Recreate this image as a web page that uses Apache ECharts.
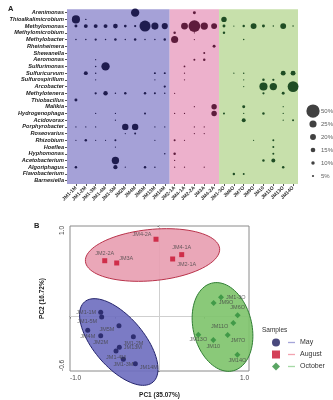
<!DOCTYPE html>
<html>
<head>
<meta charset="utf-8">
<script src="https://cdn.jsdelivr.net/npm/echarts@6/dist/echarts.min.js"></script>
<style>
  html, body { margin: 0; padding: 0; background: #fff; }
  #chart { width: 333px; height: 400px; }
</style>
</head>
<body>
<div id="chart"></div>
<script>
// ---- panel A data ----
const genera = ['Arenimonas','Thioalkalimicrobium','Methylomonas','Methylomicrobium','Methylobacter','Rheinheimera','Shewanella','Aeromonas','Sulfurimonas','Sulfuricurvum','Sulfurospirillum','Arcobacter','Methylotenera','Thiobacillus','Malikia','Hydrogenophaga','Acidovorax','Porphyrobacter','Roseovarius','Rhizobium','Hoeflea','Hyphomonas','Acetobacterium','Algoriphagus','Flavobacterium','Barnesiella'];
const maySamples = ['JM1-1M','JM1-2M','JM1-3M','JM1-4M','JM1-5M','JM2M','JM4M','JM5M','JM13M','JM14M'];
const augSamples = ['JM2-1A','JM4-1A','JM2-2A','JM3A','JM4-2A'];
const octSamples = ['JM1-3O','JM6O','JM7O','JM9O','JM10','JM11O','JM13O','JM14O'];

// relative abundance (%), one row per genus, columns = May | August | October samples
const abundance = [
  [0,0,0,0,0,0,30,0,0,0,   0,0,8,0,0,     0,0,0,0,0,0,0,0],
  [29,2,0,0,0,0,0,0,0,0,   0,0,0,0,0,     18,0,0,0,0,0,0,0],
  [8,12,12,12,15,7,5,41,25,21, 0,24,44,26,20, 8,1,6,20,8,2,20,2],
  [0,0,0,0,0,0,0,0,0,0,    6,0,1,0,0,     6,0,0,0,0,0,0,0],
  [2,2,5,2,6,2,6,2,2,6,    25,0,1,0,0,    0,0,2,0,0,0,0,0],
  [0,0,0,0,0,0,0,0,0,0,    0,0,0,0,8,     0,0,0,0,0,0,0,0],
  [0,0,0,0,0,0,0,0,0,0,    0,0,0,4,0,     0,0,0,0,0,0,0,0],
  [0,0,1,0,0,0,0,0,0,0,    0,0,4,6,0,     0,0,0,0,0,0,0,0],
  [0,0,2,30,0,0,0,0,0,0,   0,3,0,0,0,     0,0,0,0,0,0,0,0],
  [0,12,2,0,0,0,0,0,4,4,   0,1,0,0,0,     0,1,2,0,0,0,16,16],
  [0,0,1,0,0,0,0,0,1,0,    0,1,0,0,0,     0,0,1,0,6,5,0,0],
  [0,0,0,0,0,0,0,0,0,5,    0,0,0,0,0,     0,0,1,0,29,26,0,40],
  [0,0,5,14,2,6,0,6,4,2,   1,0,0,0,0,     0,0,0,0,5,0,8,0],
  [8,0,0,0,0,0,0,0,0,0,    0,0,0,0,0,     0,0,0,0,0,0,0,0],
  [0,0,0,0,0,0,0,0,0,0,    0,0,1,0,18,    0,0,8,0,0,0,1,0],
  [0,0,1,0,1,0,0,4,0,0,    1,1,0,0,18,    4,0,1,0,6,0,1,0],
  [0,0,0,0,1,0,0,0,0,0,    0,0,0,0,0,     0,0,12,0,0,0,1,4],
  [1,1,1,0,0,22,22,0,1,1,  0,0,1,1,0,     0,0,0,0,0,0,0,0],
  [0,0,0,0,0,1,4,0,0,0,    0,0,1,1,0,     0,0,0,0,0,0,0,0],
  [1,6,1,1,4,0,0,0,1,0,    4,1,0,0,0,     0,0,0,1,0,4,0,0],
  [0,0,0,0,1,0,0,0,0,0,    0,0,0,0,0,     0,0,0,0,0,4,0,0],
  [0,0,0,0,0,0,0,0,0,2,    6,0,0,0,0,     0,0,0,0,0,4,0,0],
  [0,0,0,0,26,0,0,0,0,0,   1,0,0,0,0,     0,0,0,0,6,12,0,0],
  [6,0,0,0,13,1,0,6,2,0,   1,1,0,1,0,     0,0,0,0,0,0,6,0],
  [0,0,0,0,0,0,0,0,0,0,    0,0,0,0,0,     0,6,4,0,0,0,0,0],
  [0,0,0,0,0,0,0,0,0,0,    0,0,0,0,0,     0,0,0,0,0,0,0,0]
];
const sizeLegend = [50, 25, 20, 15, 10, 5];

// ---- panel B data: [PC1, PC2, sample] ----
const pcaMay = [
  [-0.657, 0.048, 'JM1-1M'], [-0.646, -0.004, 'JM1-5M'], [-0.802, -0.151, 'JM4M'],
  [-0.453, -0.100, 'JM5M'], [-0.657, -0.210, 'JM2M'], [-0.292, -0.221, 'JM1-2M'],
  [-0.449, -0.338, 'JM13M'], [-0.486, -0.379, 'JM1-4M'], [-0.404, -0.471, 'JM1-3M'],
  [-0.270, -0.519, 'JM14M']
];
const pcaAug = [
  [-0.039, 0.854, 'JM4-2A'], [-0.612, 0.617, 'JM2-2A'], [-0.478, 0.592, 'JM3A'],
  [0.248, 0.684, 'JM4-1A'], [0.147, 0.636, 'JM2-1A']
];
const pcaOct = [
  [0.687, 0.213, 'JM1-3O'], [0.605, 0.151, 'JM9O'], [0.873, 0.015, 'JM6O'],
  [0.825, -0.070, 'JM11O'], [0.434, -0.200, 'JM13O'], [0.601, -0.258, 'JM10'],
  [0.762, -0.203, 'JM7O'], [0.870, -0.420, 'JM14O']
];
// group ellipses: [centre PC1, centre PC2, semi-major, semi-minor, angle deg]
const ellipseMay = [-0.455, -0.280, 0.585, 0.28, -49];
const ellipseAug = [-0.078, 0.680, 0.753, 0.283, 5.4];
const ellipseOct = [0.704, -0.114, 0.498, 0.327, -76];

// ---- styles ----
const bandColors = ['#a5a1d7', '#edb1cc', '#c7e0ab'];
const dotColors = ['#1f1c4f', '#5e1c3c', '#1f4d24'];
const groupColors = ['#1b1b5c', '#c8102e', '#2f8f3c'];
const ellFill = ['rgba(112,112,192,0.92)', 'rgba(232,160,178,0.92)', 'rgba(128,196,110,0.92)'];
const ellStroke = ['#23236b', '#b8324a', '#2f7d33'];
const legendLine = ['#8f8fd0', '#f08c9c', '#8fcf8f'];
const groupNames = ['May', 'August', 'October'];
const labelPos = {
  'JM1-1M': ['left', 0, 0], 'JM1-5M': ['left', 0, 4], 'JM4M': ['bottom', 0, -1],
  'JM5M': ['left', 0, 4], 'JM2M': ['bottom', 0, -1], 'JM1-2M': ['bottom', 0, -1],
  'JM13M': ['right', 0, 0], 'JM1-4M': ['bottom', 0, -1], 'JM1-3M': ['bottom', 0, -2],
  'JM14M': ['right', 0, 4],
  'JM4-2A': ['left', 0, -5], 'JM2-2A': ['top', 0, 0], 'JM3A': ['right', -2, -4],
  'JM4-1A': ['top', 0, 0], 'JM2-1A': ['right', 0, 5],
  'JM1-3O': ['right', 0, 0], 'JM9O': ['right', 0, 0], 'JM6O': ['top', 0, 0],
  'JM11O': ['left', 0, 4], 'JM13O': ['bottom', 0, -3], 'JM10': ['bottom', 0, -2],
  'JM7O': ['right', -2, 5], 'JM14O': ['bottom', 0, -2]
};

const samples = maySamples.concat(augSamples, octSamples);
const sampleGroups = [maySamples, augSamples, octSamples];
const bubbleSize = v => 1 + 0.245 * v;

// band ranges and bubble series per sampling month
const bandData = [];
const bubbleSeries = [];
let start = 0;
sampleGroups.forEach((g, gi) => {
  bandData.push([start, start + g.length - 1, 0]);
  const pts = [];
  genera.forEach((gen, r) => {
    for (let c = start; c < start + g.length; c++) {
      if (abundance[r][c] > 0) pts.push([c, r, abundance[r][c]]);
    }
  });
  bubbleSeries.push({
    type: 'scatter', xAxisIndex: 0, yAxisIndex: 0, z: 3, silent: true,
    data: pts, symbolSize: v => bubbleSize(v[2]),
    itemStyle: { color: dotColors[gi], opacity: 1 }
  });
  start += g.length;
});

const bandPadLeft = 4;
const bandSeries = {
  type: 'custom', xAxisIndex: 0, yAxisIndex: 0, z: 1, silent: true,
  data: bandData, encode: { x: [0, 1], y: 2 },
  renderItem(params, api) {
    const s = api.coord([api.value(0), 0]);
    const e = api.coord([api.value(1), 0]);
    const bw = api.size([1, 0])[0];
    const cs = params.coordSys;
    const pad = params.dataIndex === 0 ? bandPadLeft : 0;
    return {
      type: 'rect',
      shape: { x: s[0] - bw / 2 - pad, y: cs.y, width: e[0] - s[0] + bw + pad, height: cs.height },
      style: { fill: bandColors[params.dataIndex] }
    };
  }
};

const ellipseSeries = {
  type: 'custom', xAxisIndex: 2, yAxisIndex: 2, z: 2, silent: true,
  data: [ellipseMay, ellipseAug, ellipseOct], encode: { x: 0, y: 1 },
  renderItem(params, api) {
    const cx = api.value(0), cy = api.value(1), a = api.value(2), b = api.value(3);
    const t = api.value(4) * Math.PI / 180;
    const pts = [];
    for (let k = 0; k < 90; k++) {
      const u = 2 * Math.PI * k / 90;
      const x = cx + a * Math.cos(u) * Math.cos(t) - b * Math.sin(u) * Math.sin(t);
      const y = cy + a * Math.cos(u) * Math.sin(t) + b * Math.sin(u) * Math.cos(t);
      pts.push(api.coord([x, y]));
    }
    return {
      type: 'polygon', shape: { points: pts },
      style: { fill: ellFill[params.dataIndex], stroke: ellStroke[params.dataIndex], lineWidth: 1 }
    };
  }
};

const pcaSets = [pcaMay, pcaAug, pcaOct];
const pcaSymbols = ['circle', 'rect', 'diamond'];
const pcaSizes = [5, 5, 6];
const pcaSeries = pcaSets.map((set, gi) => ({
  type: 'scatter', name: groupNames[gi], xAxisIndex: 2, yAxisIndex: 2, z: 3,
  symbol: pcaSymbols[gi], symbolSize: pcaSizes[gi], silent: true,
  itemStyle: { color: groupColors[gi] },
  data: set.map(p => {
    const lp = labelPos[p[2]];
    return {
      value: [p[0], p[1]], name: p[2],
      label: { position: lp[0], offset: [lp[1], lp[2]] }
    };
  }),
  label: { show: true, formatter: '{b}', fontSize: 5.5, color: '#444', distance: 2 },
  markLine: gi === 0 ? {
    silent: true, z: 1, symbol: ['none', 'none'], animation: false,
    label: { show: false },
    lineStyle: { color: '#cfcfcf', width: 1, type: 'solid' },
    data: [{ xAxis: 0 }, { yAxis: 0 }]
  } : undefined
}));

const chart = echarts.init(document.getElementById('chart'), null, { renderer: 'canvas' });
chart.setOption({
  animation: false,
  textStyle: { fontFamily: 'Liberation Sans, Arial, sans-serif' },
  title: [
    { text: 'A', left: 3, top: 0, textStyle: { fontSize: 7.5, fontWeight: 'bold', color: '#222' } },
    { text: 'B', left: 29, top: 217, textStyle: { fontSize: 7.5, fontWeight: 'bold', color: '#222' } },
    { text: 'Samples', left: 257, top: 322, textStyle: { fontSize: 6.5, fontWeight: 'normal', color: '#333' } }
  ],
  legend: [
    {
      data: groupNames.map((n, i) => ({ name: n, icon: pcaSymbols[i] })),
      orient: 'vertical', left: 267, top: 333, itemWidth: 8, itemHeight: 8, itemGap: 3,
      formatter: () => ' ', textStyle: { fontSize: 7, lineHeight: 9 }, selectedMode: false
    },
    {
      data: groupNames.map((n, i) => ({ name: n, icon: 'rect', itemStyle: { color: legendLine[i] } })),
      orient: 'vertical', left: 283, top: 333, itemWidth: 7, itemHeight: 1.3, itemGap: 3,
      textStyle: { fontSize: 7, lineHeight: 9, color: '#333' }, selectedMode: false
    }
  ],
  grid: [
    { left: 71, top: 9.3, width: 227, height: 174.7 },
    { left: 306, top: 104.5, width: 14, height: 78 },
    { left: 70, top: 226, width: 179, height: 145, show: true, borderColor: '#8a8a8a', borderWidth: 1 }
  ],
  xAxis: [
    {
      type: 'category', gridIndex: 0, data: samples,
      axisLine: { show: false },
      axisTick: { show: true, alignWithLabel: true, length: 2, lineStyle: { color: '#555' } },
      axisLabel: { rotate: 45, fontSize: 5, fontWeight: 'bold', color: '#333', margin: 3, interval: 0 }
    },
    { type: 'category', gridIndex: 1, data: [''], show: false },
    {
      type: 'value', gridIndex: 2, min: -1, max: 1, interval: 0.5,
      name: 'PC1 (35.07%)', nameLocation: 'middle', nameGap: 21,
      nameTextStyle: { fontSize: 6.5, fontWeight: 'bold', color: '#222' },
      axisLine: { show: true, lineStyle: { color: '#777' } },
      axisTick: { show: true, length: 2, lineStyle: { color: '#777' } },
      splitLine: { show: false },
      axisLabel: { customValues: [-1, 1], formatter: v => v.toFixed(1), fontSize: 6.5, color: '#444',
        margin: 4, alignMinLabel: 'left', alignMaxLabel: 'right' }
    }
  ],
  yAxis: [
    {
      type: 'category', gridIndex: 0, data: genera, inverse: true, offset: 4,
      axisLine: { show: false },
      axisTick: { show: true, alignWithLabel: true, length: 2, lineStyle: { color: '#555' } },
      axisLabel: { fontSize: 5.6, fontWeight: 'bold', fontStyle: 'italic', color: '#222', margin: 3, interval: 0 }
    },
    { type: 'category', gridIndex: 1, data: sizeLegend.map(String), inverse: true, show: false },
    {
      type: 'value', gridIndex: 2, min: -0.6, max: 1.0, interval: 0.2,
      name: 'PC2 (16.72%)', nameLocation: 'middle', nameGap: 24,
      nameTextStyle: { fontSize: 6.5, fontWeight: 'bold', color: '#222' },
      axisLine: { show: true, lineStyle: { color: '#777' } },
      axisTick: { show: true, length: 2, customValues: [-0.6, 1.0], lineStyle: { color: '#777' } },
      splitLine: { show: false },
      axisLabel: { customValues: [-0.6, 1.0], formatter: v => v.toFixed(1), rotate: 90, fontSize: 6.5,
        color: '#444', margin: 4, alignMinLabel: 'left', alignMaxLabel: 'right' }
    }
  ],
  series: [
    bandSeries,
    ...bubbleSeries,
    {
      type: 'scatter', xAxisIndex: 1, yAxisIndex: 1, silent: true,
      data: sizeLegend.map((v, i) => [0, i, v]),
      symbolSize: v => bubbleSize(v[2]),
      itemStyle: { color: '#111' },
      label: { show: true, position: 'inside', align: 'left', offset: [8, 0],
        formatter: p => p.value[2] + '%', fontSize: 6, color: '#333' }
    },
    ellipseSeries,
    ...pcaSeries
  ]
});
</script>
</body>
</html>
